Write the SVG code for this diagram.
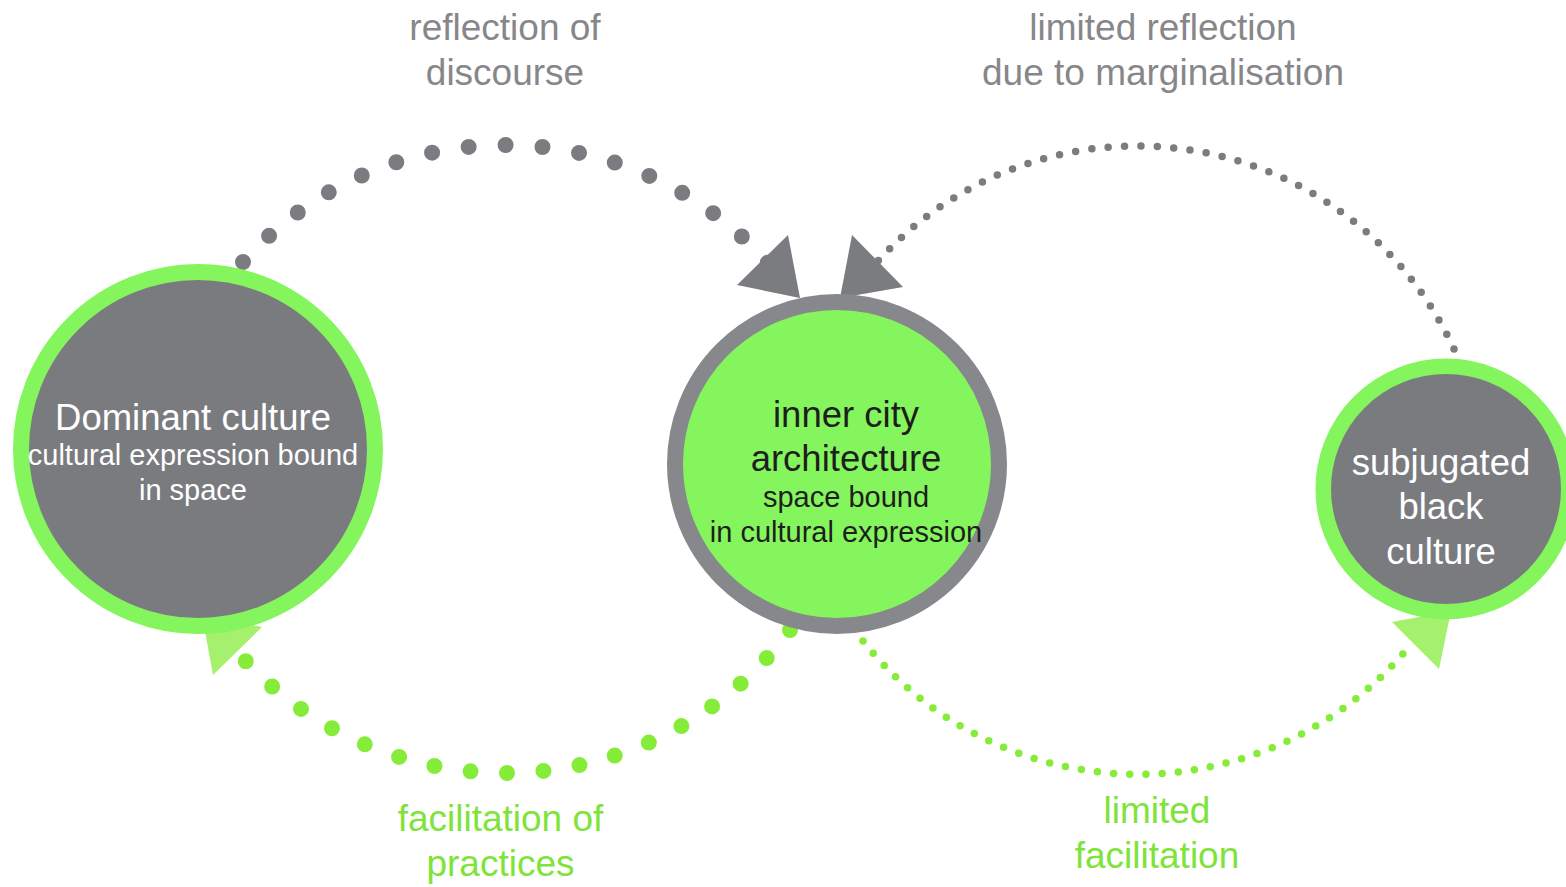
<svg xmlns="http://www.w3.org/2000/svg" width="1566" height="887" viewBox="0 0 1566 887">
<style>
.bg{fill:#ffffff}
.dots{fill:none;stroke-linecap:round}
.gbig{stroke:#7b7c80;stroke-width:16;stroke-dasharray:0 37}
.gsmall{stroke:#7b7c80;stroke-width:7.5;stroke-dasharray:0 16.4}
.lbig{stroke:#86ec3a;stroke-width:16;stroke-dasharray:0 36.5}
.lsmall{stroke:#86ec3a;stroke-width:7.5;stroke-dasharray:0 16.2}
.ahg{fill:#7b7c80}
.ahl{fill:#a5f06c}
.nodeG{fill:#7a7b7f;stroke:#84f55c}
.nodeC{fill:#84f55c;stroke:#87888c}
text{font-family:"Liberation Sans",Arial,Helvetica,sans-serif;text-anchor:middle}
.lab{font-size:37px}
.labg{fill:#87878a}
.labl{fill:#7ee43a}
.t1{font-size:36.5px}
.t2{font-size:29px}
.w{fill:#ffffff}
.k{fill:#1e1e1e}
</style>
<rect class="bg" x="0" y="0" width="1566" height="887"/>
<g id="connectors">
  <path class="dots gbig" d="M243,262 A352,352 0 0 1 768,263"/>
  <polygon class="ahg" points="800,298 737,285 788,235"/>
  <path class="dots gsmall" d="M1454,349 A349,349 0 0 0 878,261"/>
  <polygon class="ahg" points="840,298 852,235 903,287"/>
  <path class="dots lbig" d="M790,630 A356,356 0 0 1 240,655"/>
  <polygon class="ahl" points="213,675 262,627 202,615"/>
  <path class="dots lsmall" d="M863,641 A351,351 0 0 0 1412,643"/>
  <polygon class="ahl" points="1451,611 1392,622 1439,669"/>
</g>
<g id="labels">
  <text class="lab labg" x="505" y="40">reflection of</text>
  <text class="lab labg" x="505" y="85">discourse</text>
  <text class="lab labg" x="1163" y="40">limited reflection</text>
  <text class="lab labg" x="1163" y="85">due to marginalisation</text>
  <text class="lab labl" x="500.5" y="831">facilitation of</text>
  <text class="lab labl" x="500.5" y="876">practices</text>
  <text class="lab labl" x="1157" y="823">limited</text>
  <text class="lab labl" x="1157" y="868">facilitation</text>
</g>
<g id="node-dominant">
  <circle class="nodeG" cx="198" cy="449" r="177" stroke-width="16"/>
  <text class="t1 w" x="193" y="430">Dominant culture</text>
  <text class="t2 w" x="193" y="465">cultural expression bound</text>
  <text class="t2 w" x="193" y="500">in space</text>
</g>
<g id="node-architecture">
  <circle class="nodeC" cx="837" cy="464" r="162" stroke-width="16"/>
  <text class="t1 k" x="846" y="427">inner city</text>
  <text class="t1 k" x="846" y="471">architecture</text>
  <text class="t2 k" x="846" y="507">space bound</text>
  <text class="t2 k" x="846" y="542">in cultural expression</text>
</g>
<g id="node-subjugated">
  <circle class="nodeG" cx="1446" cy="489" r="122.75" stroke-width="15.5"/>
  <text class="t1 w" x="1441" y="475">subjugated</text>
  <text class="t1 w" x="1441" y="519">black</text>
  <text class="t1 w" x="1441" y="564">culture</text>
</g>
</svg>
